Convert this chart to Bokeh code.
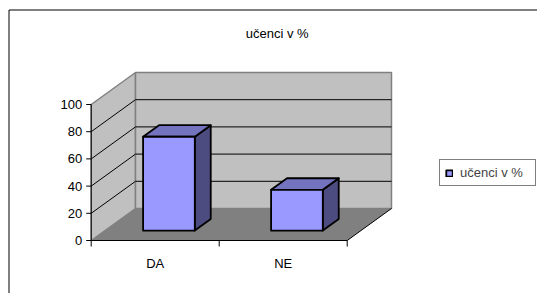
from bokeh.plotting import figure
from bokeh.models import Range1d, Legend, LegendItem
from bokeh.core.properties import value
from bokeh.embed import file_html
from bokeh.resources import INLINE

# ---- data ----
categories = ["DA", "NE"]
values = [69, 30]
series_name = "učenci v %"
y_ticks = [0, 20, 40, 60, 80, 100]
y_tick_labels = ["0", "20", "40", "60", "80", "100"]
title_text = "učenci v %"

# ---- layout / style ----
OFF = 0                 # page offset of the canvas
W, H = 537, 293
PX_PER_CAT = 128.0      # px per category unit
PX_PER_VAL = 1.36       # px per value unit
ORIGIN_X = 90.7 - OFF   # canvas x of category 0
ORIGIN_Y = 240 - OFF    # canvas y (from top) of value 0
DEPTH_X = 44.3 / PX_PER_CAT   # shift of full depth, cat units
DEPTH_Y = 32.0 / PX_PER_VAL   # shift of full depth, value units
BAR_W = 0.404
D0, D1 = 0.31, 0.67
FONT = "Liberation Sans"

xs = -ORIGIN_X / PX_PER_CAT
xe = xs + W / PX_PER_CAT
ye = ORIGIN_Y / PX_PER_VAL
ys = -(H - ORIGIN_Y) / PX_PER_VAL


def page(X, Y):
    """page pixel -> data coords"""
    return (xs + (X - OFF) / PX_PER_CAT, ye - (Y - OFF) / PX_PER_VAL)


def proj(x, v, d):
    return (x + d * DEPTH_X, v + d * DEPTH_Y)


p = figure(width=W, height=H, x_range=Range1d(xs, xe), y_range=Range1d(ys, ye),
           x_axis_type=None, y_axis_type=None, toolbar_location=None,
           output_backend="svg", min_border=0, outline_line_color=None)
p.background_fill_color = "white"
p.border_fill_color = "white"

n = len(categories)
ymax = y_ticks[-1]

# walls
wall_gray = "#C0C0C0"
edge_gray = "#808080"
lw = [proj(0, 0, 0), proj(0, ymax, 0), proj(0, ymax, 1), proj(0, 0, 1)]
bw = [proj(0, 0, 1), proj(n, 0, 1), proj(n, ymax, 1), proj(0, ymax, 1)]
fl = [proj(0, 0, 0), proj(n, 0, 0), proj(n, 0, 1), proj(0, 0, 1)]
p.patch([a for a, b in lw], [b for a, b in lw], fill_color=wall_gray, line_color=edge_gray, line_width=1.5)
p.patch([a for a, b in bw], [b for a, b in bw], fill_color=wall_gray, line_color=edge_gray, line_width=1.5)
p.patch([a for a, b in fl], [b for a, b in fl], fill_color="#808080", line_color=None)

# gridlines
for t in y_ticks[1:-1]:
    a = proj(0, t, 0); b = proj(0, t, 1); c = proj(n, t, 1)
    p.line([a[0], b[0], c[0]], [a[1], b[1], c[1]], line_color="black", line_width=1)

# floor right edge
a = proj(n, 0, 0); b = proj(n, 0, 1)
p.line([a[0], b[0]], [a[1], b[1]], line_color="black", line_width=1)

# value axis
p.line([0, 0], [0, ymax], line_color="black", line_width=1)
tick_len_x = 5 / PX_PER_CAT
p.segment(x0=[-tick_len_x] * len(y_ticks), y0=y_ticks, x1=[0] * len(y_ticks), y1=y_ticks,
          line_color="black", line_width=1)
p.text(x=[-9 / PX_PER_CAT] * len(y_ticks), y=y_ticks, text=y_tick_labels,
       text_align="right", text_baseline="middle", text_font=value(FONT),
       text_font_size="13px", text_color="black")

# category axis
p.line([0, n], [0, 0], line_color="black", line_width=1)
cat_ticks = list(range(n + 1))
p.segment(x0=cat_ticks, y0=[0] * len(cat_ticks), x1=cat_ticks,
          y1=[-6 / PX_PER_VAL] * len(cat_ticks), line_color="black", line_width=1)
lab_y = page(0, 263)[1]
p.text(x=[i + 0.5 for i in range(n)], y=[lab_y] * n, text=categories,
       text_align="center", text_baseline="middle", text_font=value(FONT),
       text_font_size="13px", text_color="black")

# bars
front_xs, front_ys, top_xs, top_ys, side_xs, side_ys = [], [], [], [], [], []
for i, v in enumerate(values):
    x0 = i + 0.5 - BAR_W / 2
    x1 = i + 0.5 + BAR_W / 2
    f = [proj(x0, 0, D0), proj(x1, 0, D0), proj(x1, v, D0), proj(x0, v, D0)]
    t = [proj(x0, v, D0), proj(x1, v, D0), proj(x1, v, D1), proj(x0, v, D1)]
    s = [proj(x1, 0, D0), proj(x1, 0, D1), proj(x1, v, D1), proj(x1, v, D0)]
    front_xs.append([q[0] for q in f]); front_ys.append([q[1] for q in f])
    top_xs.append([q[0] for q in t]); top_ys.append([q[1] for q in t])
    side_xs.append([q[0] for q in s]); side_ys.append([q[1] for q in s])

p.patches(side_xs, side_ys, fill_color="#4C4C80", line_color="black", line_width=1.8, line_join="round")
p.patches(top_xs, top_ys, fill_color="#7373BF", line_color="black", line_width=1.8, line_join="round")
front = p.patches(front_xs, front_ys, fill_color="#9999FF", line_color="black", line_width=1.8, line_join="round")

# title
tx, ty = page(276.7, 33)
p.text(x=[tx], y=[ty], text=[title_text], text_align="center", text_baseline="middle",
       text_font=value(FONT), text_font_size="13px", text_color="black")

# outer chart border (left & top visible)
bx0, by0 = page(8.5, 9.5)
bx1, by1 = page(700, 400)
p.line([bx0, bx0, bx1], [by1, by0, by0], line_color="black", line_width=1)

legend = Legend(items=[LegendItem(label=series_name, renderers=[front])],
                location=(439, 293 - 186), orientation="vertical",
                border_line_color="black", border_line_width=1,
                padding=5, margin=0, spacing=0,
                glyph_width=8, glyph_height=8, label_standoff=7,
                label_width=70, label_height=10,
                label_text_font=FONT, label_text_font_size="13px",
                background_fill_color="white", background_fill_alpha=1.0)
legend.item_background_fill_alpha = 0
p.add_layout(legend, "center")

open("out.html", "w").write(file_html(p, INLINE))
